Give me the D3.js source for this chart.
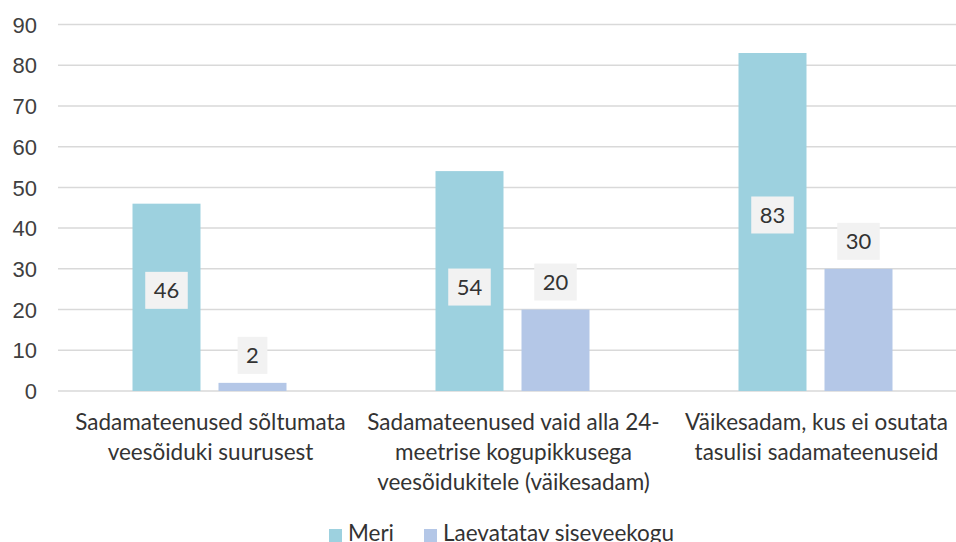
<!DOCTYPE html>
<html>
<head>
  <meta charset="utf-8">
  <title>Sadamateenused</title>
  <script src="https://d3js.org/d3.v7.min.js"></script>
  <style>
    body { margin: 0; background: #fff; }
    svg { font-family: Lato, "Open Sans", sans-serif; }
    .grid line { stroke: #d9d9d9; stroke-width: 1.5px; }
    .tick text { fill: #404040; font-size: 22px; }
    .cat { fill: #333; font-size: 22.5px; }
    .lbl { fill: #333; font-size: 22px; }
    .legend text { fill: #333; font-size: 22.5px; }
  </style>
</head>
<body>
  <svg width="956" height="542"></svg>
  <script>
    const categories = [
      ["Sadamateenused sõltumata", "veesõiduki suurusest"],
      ["Sadamateenused vaid alla 24-", "meetrise kogupikkusega", "veesõidukitele (väikesadam)"],
      ["Väikesadam, kus ei osutata", "tasulisi sadamateenuseid"]
    ];
    const series = ["Meri", "Laevatatav siseveekogu"];
    const meri = [46, 54, 83];
    const siseveekogu = [2, 20, 30];
    const yTicks = [0, 10, 20, 30, 40, 50, 60, 70, 80, 90];
    const colors = ["#9dd1df", "#b4c7e7"];
    // small vertical nudges of the inside labels, as placed in the original
    const meriLabelShift = [-7, 6, -7];

    const svg = d3.select("svg");
    const plotL = 58, plotR = 967, plotT = 24.5, plotB = 391;

    const x = d3.scaleBand().domain(d3.range(categories.length)).range([plotL, plotR]);
    const inner = d3.scaleBand().domain(series).range([x.bandwidth() / 2 - 77, x.bandwidth() / 2 + 77]).paddingInner(0.2093);
    const y = d3.scaleLinear().domain([0, 90]).range([plotB, plotT]);

    // gridlines
    svg.append("g").attr("class", "grid")
      .selectAll("line").data(yTicks).join("line")
      .attr("x1", plotL).attr("x2", plotR)
      .attr("y1", d => y(d)).attr("y2", d => y(d));

    // y axis labels
    const yAxis = svg.append("g")
      .attr("transform", `translate(${plotL - 21},0)`)
      .call(d3.axisLeft(y).tickValues(yTicks).tickSize(0).tickPadding(0));
    yAxis.select(".domain").remove();
    yAxis.selectAll("text").attr("dy", "0.35em");

    const data = [];
    categories.forEach((c, i) => [meri[i], siseveekogu[i]].forEach((v, k) => data.push({ i, s: series[k], k, v })));

    svg.append("g").selectAll("rect").data(data).join("rect")
      .attr("x", d => x(d.i) + inner(d.s))
      .attr("width", inner.bandwidth())
      .attr("y", d => y(d.v))
      .attr("height", d => y(0) - y(d.v))
      .attr("fill", d => colors[d.k]);

    // data labels with boxes
    const lab = svg.append("g").selectAll("g").data(data).join("g")
      .attr("transform", d => {
        const cx = x(d.i) + inner(d.s) + inner.bandwidth() / 2;
        const cy = d.k === 0 ? (y(d.v) + y(0)) / 2 + meriLabelShift[d.i] : y(d.v) - 9 - 18.5;
        return `translate(${cx},${cy})`;
      });
    lab.append("rect").attr("fill", "#f2f2f2");
    lab.append("text").attr("class", "lbl")
      .attr("text-anchor", "middle").attr("dy", "0.36em")
      .text(d => d.v);
    lab.each(function () {
      const g = d3.select(this);
      const w = g.select("text").node().getComputedTextLength();
      g.select("rect").attr("x", -w / 2 - 8.5).attr("width", w + 17)
        .attr("y", -18.5).attr("height", 37);
    });

    // category labels
    svg.append("g").selectAll("text").data(categories).join("text")
      .attr("class", "cat")
      .attr("text-anchor", "middle")
      .attr("transform", (d, i) => `translate(${x(i) + x.bandwidth() / 2 + 1},430)`)
      .selectAll("tspan").data(d => d).join("tspan")
      .attr("x", 0).attr("dy", (d, j) => j === 0 ? 0 : 30)
      .text(d => d);

    // legend
    const leg = svg.append("g").attr("class", "legend");
    const legX = [329, 424];
    series.forEach((s, k) => {
      leg.append("rect").attr("x", legX[k]).attr("y", 529).attr("width", 13).attr("height", 13).attr("fill", colors[k]);
      leg.append("text").attr("x", legX[k] + 19).attr("y", 541).text(s);
    });
  </script>
</body>
</html>
